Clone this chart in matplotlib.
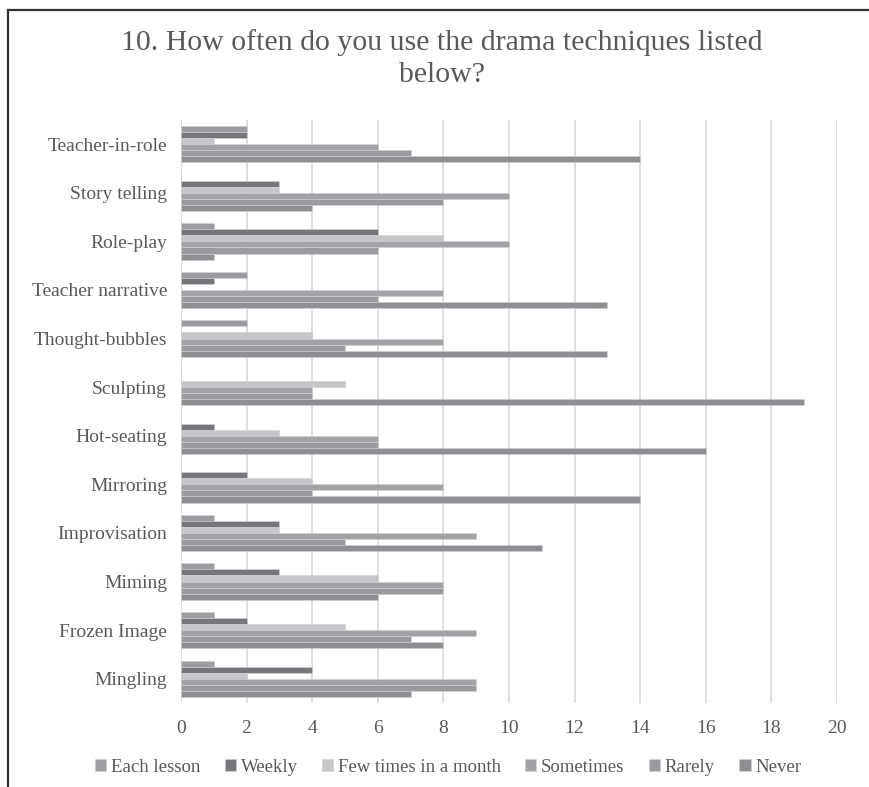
import numpy as np
import matplotlib
matplotlib.use("Agg")
import matplotlib.pyplot as plt
from matplotlib.lines import Line2D

# categories, top to bottom as they appear in the chart
techniques = ["Teacher-in-role", "Story telling", "Role-play", "Teacher narrative",
              "Thought-bubbles", "Sculpting", "Hot-seating", "Mirroring",
              "Improvisation", "Miming", "Frozen Image", "Mingling"]

series_names = ["Each lesson", "Weekly", "Few times in a month", "Sometimes", "Rarely", "Never"]

each_lesson = [2, 0, 1, 2, 2, 0, 0, 0, 1, 1, 1, 1]
weekly      = [2, 3, 6, 1, 0, 0, 1, 2, 3, 3, 2, 4]
few_times   = [1, 3, 8, 0, 4, 5, 3, 4, 3, 6, 5, 2]
sometimes   = [6, 10, 10, 8, 8, 4, 6, 8, 9, 8, 9, 9]
rarely      = [7, 8, 6, 6, 5, 4, 6, 4, 5, 8, 7, 9]
never       = [14, 4, 1, 13, 13, 19, 16, 14, 11, 6, 8, 7]

colors = ["#9d9da1", "#77777b", "#c6c6c9", "#a3a3a7", "#9b9b9f", "#8f8f93"]
text_color = "#595959"

plt.rcParams['font.family'] = ['Liberation Serif', 'DejaVu Serif']

fig = plt.figure(figsize=(8.7, 7.87), dpi=100)
ax = fig.add_axes([0.208, 0.1067, 0.754, 0.741])

all_series = [each_lesson, weekly, few_times, sometimes, rarely, never]
n = len(techniques)
ypos = np.arange(n)[::-1]  # first technique at top
h = 0.125

for i, (name, vals, c) in enumerate(zip(series_names, all_series, colors)):
    offset = (2.5 - i) * h
    ax.barh(ypos + offset, vals, height=h, color=c, label=name,
            edgecolor="#d0d0d3", linewidth=0.4, zorder=3)

ax.set_xlim(0, 20)
ax.set_ylim(-0.5, n - 0.5)
ax.set_xticks(range(0, 21, 2))
ax.set_yticks(ypos)
ax.set_yticklabels(techniques)
ax.tick_params(axis='both', length=0, labelsize=14, colors=text_color)
ax.tick_params(axis='x', pad=12)
ax.tick_params(axis='y', pad=10)
ax.grid(axis='x', color="#d9d9d9", linewidth=1.2, zorder=0)
for s in ax.spines.values():
    s.set_visible(False)

fig.text(0.508, 0.9257, "10. How often do you use the drama techniques listed\nbelow?",
         fontsize=21.5, color=text_color, ha='center', va='center', linespacing=1.3)

fig.legend(loc='center', bbox_to_anchor=(0.515, 0.025), ncol=6, frameon=False,
           fontsize=13.5, labelcolor=text_color, handlelength=0.6, handleheight=0.6,
           handletextpad=0.25, columnspacing=1.3)

# outer border (left and top only)
fig.add_artist(Line2D([0.0092, 0.0092], [0, 0.9873], color="#333333", linewidth=1.6))
fig.add_artist(Line2D([0.0092, 1.0], [0.9873, 0.9873], color="#333333", linewidth=1.6))

fig.savefig("out.png", dpi=100)
